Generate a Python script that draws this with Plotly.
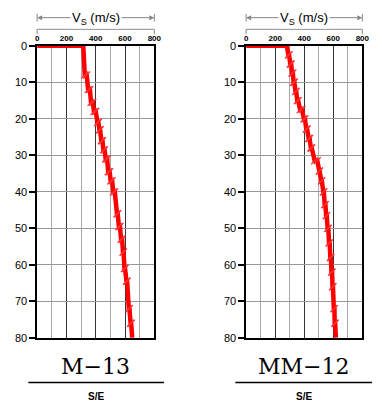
import plotly.graph_objects as go

# ---------------- data ----------------
depth_ticks = [0, 10, 20, 30, 40, 50, 60, 70, 80]
vs_ticks = [0, 200, 400, 600, 800]

# M-13 layered shear-wave velocity profile (layer boundaries in m, Vs in m/s)
m13_bounds = [0, 8, 12, 15.5, 18, 21, 23, 26, 28.5, 31, 34.5, 37, 40, 46, 49.5, 53, 56.5, 61, 64.5, 72, 76, 80]
m13_vtop = [315, 338, 360, 380, 400, 418, 430, 446, 460, 478, 495, 512, 530, 550, 565, 580, 590, 600, 614, 630, 642]
m13_vbot = [325, 348, 368, 388, 412, 425, 438, 452, 468, 485, 502, 520, 545, 558, 573, 586, 596, 610, 626, 638, 649]

# MM-12 profile
mm12_bounds = [0, 2.5, 5, 7.5, 10, 12.5, 15, 17.5, 20, 22.8, 25.4, 28, 31.5, 34.3, 37, 40, 43.5, 46.5, 50, 54, 58, 62, 66, 72, 76, 80]
mm12_vtop = [281, 296, 310, 322, 332, 345, 358, 385, 405, 420, 437, 452, 490, 506, 521, 535, 546, 555, 566, 575, 584, 592, 598, 608, 613]
mm12_vbot = [291, 304, 316, 327, 340, 352, 372, 398, 414, 431, 446, 472, 504, 518, 532, 541, 551, 561, 571, 580, 588, 595, 604, 610, 618]

titles = ["M\u221213", "MM\u221212"]
subtitle = "S/E"
axis_title = "V<sub>S</sub> (m/s)"

W, H = 382, 405


def step_xy(bounds, vtop, vbot):
    xs, ys = [0], [bounds[0]]
    for i in range(len(vtop)):
        xs += [vtop[i], vbot[i]]
        ys += [bounds[i], bounds[i + 1]]
    return xs, ys


def py(px):
    return (H - px) / H


fig = go.Figure()

profiles = [(m13_bounds, m13_vtop, m13_vbot), (mm12_bounds, mm12_vtop, mm12_vbot)]
for k, (b, vt, vb) in enumerate(profiles):
    xs, ys = step_xy(b, vt, vb)
    ax = "" if k == 0 else "2"
    fig.add_trace(go.Scatter(x=xs, y=ys, mode="lines", line=dict(color="#ff0000", width=4.5),
                             xaxis="x" + ax, yaxis="y" + ax, cliponaxis=False, showlegend=False,
                             hoverinfo="skip"))
    fig.add_trace(go.Scatter(x=vb[:-1], y=b[1:-1], mode="markers",
                             marker=dict(symbol="line-ne", size=7, line=dict(color="#ff3030", width=1.2)),
                             xaxis="x" + ax, yaxis="y" + ax, cliponaxis=False, showlegend=False,
                             hoverinfo="skip"))
    fig.add_trace(go.Scatter(x=vt[1:], y=b[1:-1], mode="markers",
                             marker=dict(symbol="line-ne", size=7, line=dict(color="#ff3030", width=1.2)),
                             xaxis="x" + ax, yaxis="y" + ax, cliponaxis=False, showlegend=False,
                             hoverinfo="skip"))

domains_x = [[36 / W, 156 / W], [250 / W, 369 / W]]
domain_y = [py(342), py(41)]

xaxis_common = dict(range=[0, 800], side="top", tickvals=vs_ticks, ticks="",
                    tickfont=dict(family="Arial", size=8, color="black", weight="bold"),
                    showline=True, mirror=True, linecolor="black", linewidth=1.5,
                    showgrid=True, gridcolor="#333333", gridwidth=1, zeroline=False,
                    minor=dict(dtick=100, showgrid=True, gridcolor="#aaaaaa", gridwidth=1.2, ticks=""),
                    fixedrange=True)
yaxis_common = dict(range=[80, 0], tickvals=depth_ticks, ticks="outside", ticklen=6, tickwidth=2,
                    tickcolor="black", tickfont=dict(family="Arial", size=11, color="black"),
                    showline=True, mirror=True, linecolor="black", linewidth=1.5,
                    showgrid=True, gridcolor="#999999", gridwidth=1, zeroline=False, fixedrange=True)

fig.update_layout(
    width=W, height=H, margin=dict(l=0, r=0, t=0, b=0),
    paper_bgcolor="white", plot_bgcolor="white", showlegend=False,
    xaxis=dict(domain=domains_x[0], anchor="y", **xaxis_common),
    yaxis=dict(domain=domain_y, anchor="x", **yaxis_common),
    xaxis2=dict(domain=domains_x[1], anchor="y2", **xaxis_common),
    yaxis2=dict(domain=domain_y, anchor="x2", **yaxis_common),
)

shapes = []
annotations = []
title_centers = [96, 309]
underline = [[27, 166], [239, 379]]
for k in range(2):
    xr = "x domain" if k == 0 else "x2 domain"
    # bracket line above tick labels
    shapes.append(dict(type="line", xref=xr, yref="paper", x0=0, x1=1, y0=py(24), y1=py(24),
                       line=dict(color="#888888", width=1)))
    for xe in (0, 1):
        shapes.append(dict(type="line", xref=xr, yref="paper", x0=xe, x1=xe, y0=py(24), y1=py(29),
                           line=dict(color="#888888", width=1)))
        shapes.append(dict(type="line", xref=xr, yref="paper", x0=xe, x1=xe, y0=py(8), y1=py(16),
                           line=dict(color="#888888", width=1)))
    # arrows
    annotations.append(dict(xref=xr, yref="paper", x=0, y=py(12), text="", showarrow=True,
                            ax=36, ay=0, arrowhead=2, arrowsize=1, arrowwidth=1, arrowcolor="#888888"))
    annotations.append(dict(xref=xr, yref="paper", x=1, y=py(12), text="", showarrow=True,
                            ax=-36, ay=0, arrowhead=2, arrowsize=1, arrowwidth=1, arrowcolor="#888888"))
    annotations.append(dict(xref=xr, yref="paper", x=0.5, y=py(13), text=axis_title, showarrow=False,
                            font=dict(family="Arial", size=13, color="black"), bgcolor="white",
                            xanchor="center", yanchor="middle"))
    # panel title
    annotations.append(dict(xref="paper", yref="paper", x=title_centers[k] / W, y=py(372),
                            text=titles[k], showarrow=False,
                            font=dict(family="DejaVu Serif", size=22, color="black"),
                            xanchor="center", yanchor="middle"))
    shapes.append(dict(type="line", xref="paper", yref="paper", x0=underline[k][0] / W, x1=underline[k][1] / W,
                       y0=py(388), y1=py(388), line=dict(color="black", width=1.5)))
    annotations.append(dict(xref="paper", yref="paper", x=title_centers[k] / W, y=py(402),
                            text="<b>" + subtitle + "</b>", showarrow=False,
                            font=dict(family="Arial", size=10, color="black"),
                            xanchor="center", yanchor="middle"))

fig.update_layout(shapes=shapes, annotations=annotations)
fig.write_html("out.html")
